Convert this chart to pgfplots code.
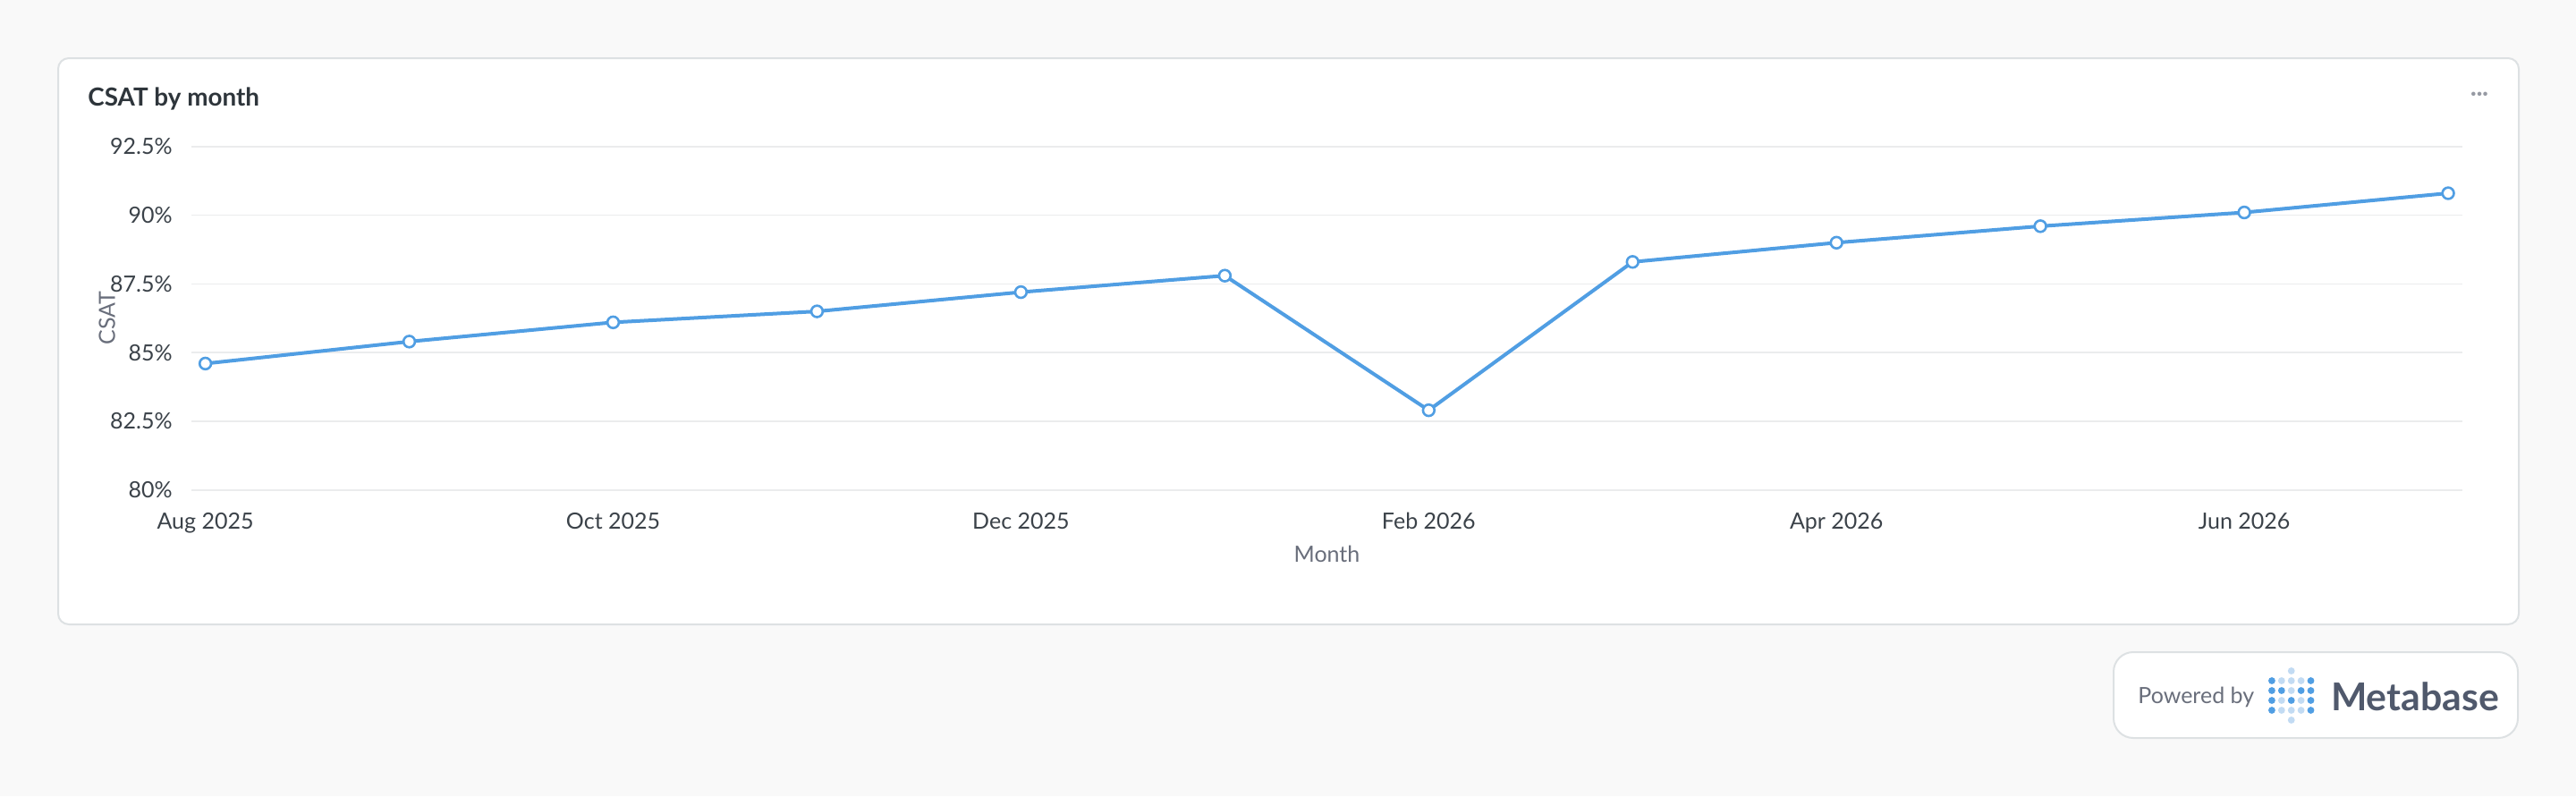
\documentclass[border=0pt]{standalone}
\usepackage{pgfplots}
\pgfplotsset{compat=1.18}
\usepackage{fontspec}
\setmainfont{Lato}
\definecolor{bg}{HTML}{F9F9F9}
\definecolor{cardborder}{HTML}{DDE1E3}
\definecolor{mbblue}{HTML}{509EE3}
\definecolor{mblight}{HTML}{C2DBF3}
\definecolor{titlecol}{HTML}{2E353B}
\definecolor{tickcol}{HTML}{3B4249}
\definecolor{labelcol}{HTML}{696E7B}
\definecolor{gridcol}{HTML}{EBECED}
\definecolor{logotext}{HTML}{50596C}
\newcommand{\fs}[1]{\fontsize{#1}{1.2\dimexpr#1\relax}\selectfont}
\begin{document}
\begin{tikzpicture}
% page and card
\fill[bg] (0,0) rectangle (1440pt,-445pt);
\useasboundingbox (0,0) rectangle (1440pt,-445pt);
\draw[cardborder, line width=1pt, fill=white, rounded corners=6pt]
  (32.5pt,-32.5pt) rectangle (1408pt,-349pt);
\node[anchor=base west, inner sep=0pt, text=titlecol, font=\fs{13.9pt}\bfseries]
  at (49pt,-59pt) {CSAT by month};
\node[inner sep=0pt, text=labelcol!70, font=\fs{12pt}\bfseries] at (1386pt,-54pt) {···};

\begin{axis}[%
at={(107pt,-273.85pt)}, anchor=south west,
scale only axis,
width=1269.5pt, height=191.95pt,
xmin=-0.0684, xmax=11.07,
ymin=80, ymax=92.5,
axis line style={draw=none},
major tick style={draw=none},
ymajorgrids,
grid style={gridcol, line width=0.8pt},
xtick={0,2,4,6,8,10},
xticklabels={Aug 2025,Oct 2025,Dec 2025,Feb 2026,Apr 2026,Jun 2026},
ytick={80,82.5,85,87.5,90,92.5},
yticklabels={80\%,82.5\%,85\%,87.5\%,90\%,92.5\%},
/pgf/number format/assume math mode=true,
tick label style={font=\fs{12.5pt}, text=tickcol},
xticklabel style={anchor=north, inner sep=0pt, yshift=-12.6pt},
yticklabel style={anchor=east, inner sep=0pt, xshift=-10.5pt},
xlabel={Month},
xlabel style={at={(axis description cs:0.5,0)}, anchor=base, yshift=-40.2pt,
  font=\fs{12.5pt}, text=labelcol, inner sep=0pt},
ylabel={CSAT},
ylabel style={at={(axis description cs:-0.0372,0.5)}, anchor=center,
  font=\fs{12.5pt}, text=labelcol, inner sep=0pt},
clip=false,
]
\addplot[color=mbblue, line width=2pt, mark=*, mark size=3.2pt,
  mark options={fill=white, draw=mbblue, line width=1.3pt}]
  coordinates {
  (0,84.6) (1,85.4) (2,86.1) (3,86.5) (4,87.2) (5,87.8)
  (6,82.9) (7,88.3) (8,89.0) (9,89.6) (10,90.1) (11,90.8)
  };
\end{axis}

% powered by badge
\draw[cardborder, line width=1pt, fill=white, rounded corners=11pt]
  (1181.5pt,-364.5pt) rectangle (1407.5pt,-412.5pt);
\node[anchor=base west, inner sep=0pt, text=labelcol, font=\fs{12.5pt}]
  at (1195pt,-393.35pt) {Powered by};
\foreach \c/\r/\col in {
  3/0/mblight,
  1/1/mbblue, 2/1/mblight, 3/1/mblight, 4/1/mblight, 5/1/mbblue,
  1/2/mbblue, 2/2/mbblue, 3/2/mblight, 4/2/mbblue, 5/2/mbblue,
  1/3/mbblue, 2/3/mblight, 3/3/mbblue, 4/3/mblight, 5/3/mbblue,
  1/4/mbblue, 2/4/mblight, 3/4/mblight, 4/4/mblight, 5/4/mbblue,
  3/5/mblight}
  \fill[\col] ({1264.5pt+\c*5.45pt},{-375pt-\r*5.5pt}) circle (1.95pt);
\node[anchor=base west, inner sep=0pt, text=logotext, font=\fs{21.4pt}\bfseries]
  at (1302.8pt,-397pt) {Metabase};
\end{tikzpicture}
\end{document}
